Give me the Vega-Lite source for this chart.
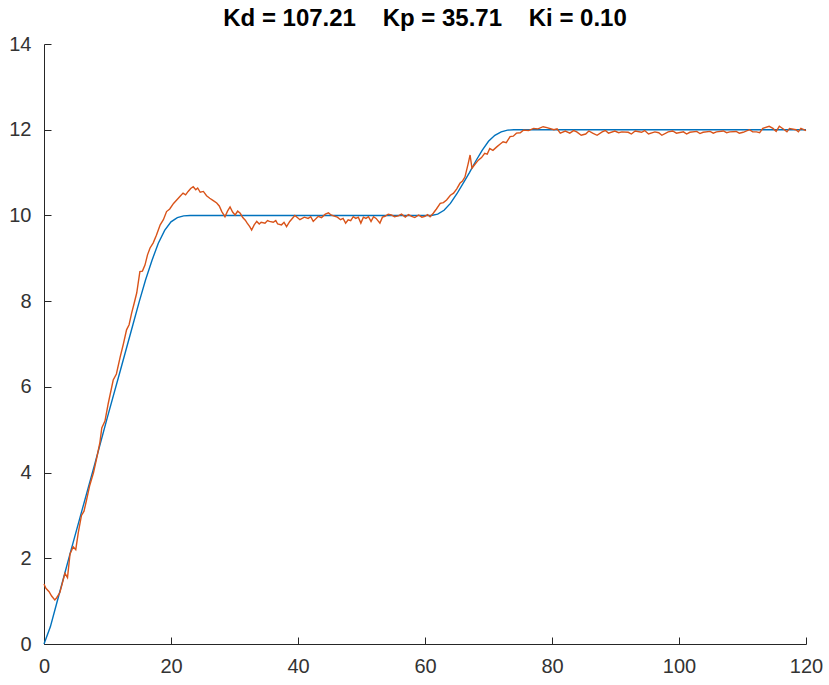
{
  "$schema": "https://vega.github.io/schema/vega-lite/v6.json",
  "autosize": "none",
  "width": 762,
  "height": 600,
  "padding": {"left": 44, "top": 44, "right": 23, "bottom": 41},
  "background": "white",
  "config": {"view": {"stroke": null}},
  "title": {"text": "Kd = 107.21\u00a0\u00a0\u00a0\u00a0Kp = 35.71\u00a0\u00a0\u00a0\u00a0Ki = 0.10", "font": "Liberation Sans", "fontSize": 24, "fontWeight": "bold", "color": "#000000", "anchor": "middle", "offset": 3},
  "datasets": {
    "ref": [
      {"t": 0, "y": 0}, {"t": 1, "y": 0.4}, {"t": 2, "y": 0.95}, {"t": 3, "y": 1.5}, {"t": 4, "y": 2.05}, {"t": 6, "y": 3.13}, {"t": 8, "y": 4.2}, {"t": 10, "y": 5.3}, {"t": 12, "y": 6.37}, {"t": 14, "y": 7.45}, {"t": 15, "y": 7.99}, {"t": 16, "y": 8.5}, {"t": 17, "y": 8.95}, {"t": 18, "y": 9.35}, {"t": 19, "y": 9.65}, {"t": 20, "y": 9.85}, {"t": 21, "y": 9.95}, {"t": 22, "y": 9.99}, {"t": 23, "y": 10}, {"t": 61, "y": 10}, {"t": 62, "y": 10.03}, {"t": 63, "y": 10.12}, {"t": 64, "y": 10.28}, {"t": 65, "y": 10.5}, {"t": 66, "y": 10.75}, {"t": 67, "y": 11.0}, {"t": 68, "y": 11.27}, {"t": 69, "y": 11.52}, {"t": 70, "y": 11.73}, {"t": 71, "y": 11.87}, {"t": 72, "y": 11.95}, {"t": 73, "y": 11.99}, {"t": 74, "y": 12}, {"t": 120, "y": 12}
    ],
    "meas": [
      {"t": 0, "y": 1.4}, {"t": 0.3, "y": 1.3}, {"t": 0.8, "y": 1.22}, {"t": 1.2, "y": 1.12}, {"t": 1.7, "y": 1.03}, {"t": 2.0, "y": 1.08}, {"t": 2.5, "y": 1.2}, {"t": 3.3, "y": 1.65}, {"t": 3.7, "y": 1.55}, {"t": 4.1, "y": 2.1}, {"t": 4.6, "y": 2.27}, {"t": 5.0, "y": 2.2}, {"t": 5.4, "y": 2.6}, {"t": 5.9, "y": 3.0}, {"t": 6.3, "y": 3.1}, {"t": 6.7, "y": 3.36}, {"t": 7.2, "y": 3.7}, {"t": 7.8, "y": 4.0}, {"t": 8.3, "y": 4.34}, {"t": 8.8, "y": 4.7}, {"t": 9.1, "y": 5.04}, {"t": 9.6, "y": 5.2}, {"t": 10.1, "y": 5.6}, {"t": 10.9, "y": 6.16}, {"t": 11.4, "y": 6.3}, {"t": 12.0, "y": 6.7}, {"t": 12.5, "y": 7.0}, {"t": 13.0, "y": 7.33}, {"t": 13.4, "y": 7.45}, {"t": 13.8, "y": 7.72}, {"t": 14.2, "y": 7.95}, {"t": 14.6, "y": 8.19}, {"t": 15.1, "y": 8.69}, {"t": 15.5, "y": 8.7}, {"t": 15.9, "y": 8.84}, {"t": 16.3, "y": 9.08}, {"t": 16.7, "y": 9.24}, {"t": 17.2, "y": 9.36}, {"t": 17.7, "y": 9.54}, {"t": 18.3, "y": 9.78}, {"t": 18.8, "y": 9.9}, {"t": 19.3, "y": 10.09}, {"t": 19.8, "y": 10.15}, {"t": 20.4, "y": 10.28}, {"t": 20.9, "y": 10.36}, {"t": 21.4, "y": 10.44}, {"t": 21.9, "y": 10.52}, {"t": 22.3, "y": 10.48}, {"t": 22.7, "y": 10.56}, {"t": 23.1, "y": 10.63}, {"t": 23.5, "y": 10.67}, {"t": 23.9, "y": 10.6}, {"t": 24.2, "y": 10.64}, {"t": 24.6, "y": 10.54}, {"t": 25.1, "y": 10.56}, {"t": 25.6, "y": 10.46}, {"t": 26.1, "y": 10.4}, {"t": 26.6, "y": 10.35}, {"t": 27.2, "y": 10.29}, {"t": 27.6, "y": 10.22}, {"t": 28.0, "y": 10.09}, {"t": 28.5, "y": 9.97}, {"t": 28.9, "y": 10.1}, {"t": 29.3, "y": 10.2}, {"t": 29.7, "y": 10.08}, {"t": 30.1, "y": 10.01}, {"t": 30.5, "y": 10.1}, {"t": 30.9, "y": 10.05}, {"t": 31.3, "y": 9.95}, {"t": 31.7, "y": 9.89}, {"t": 32.0, "y": 9.82}, {"t": 32.4, "y": 9.74}, {"t": 32.7, "y": 9.66}, {"t": 33.1, "y": 9.78}, {"t": 33.5, "y": 9.86}, {"t": 33.9, "y": 9.8}, {"t": 34.2, "y": 9.84}, {"t": 34.8, "y": 9.82}, {"t": 35.2, "y": 9.88}, {"t": 35.5, "y": 9.86}, {"t": 36.1, "y": 9.84}, {"t": 36.5, "y": 9.88}, {"t": 36.8, "y": 9.8}, {"t": 37.4, "y": 9.78}, {"t": 37.8, "y": 9.84}, {"t": 38.2, "y": 9.74}, {"t": 38.7, "y": 9.86}, {"t": 39.1, "y": 9.93}, {"t": 39.5, "y": 10.0}, {"t": 39.9, "y": 9.95}, {"t": 40.3, "y": 9.9}, {"t": 41.0, "y": 9.96}, {"t": 41.6, "y": 9.93}, {"t": 42.0, "y": 9.97}, {"t": 42.4, "y": 9.86}, {"t": 43.2, "y": 9.98}, {"t": 43.7, "y": 9.95}, {"t": 44.3, "y": 10.03}, {"t": 44.8, "y": 10.06}, {"t": 45.2, "y": 10.01}, {"t": 45.6, "y": 9.99}, {"t": 46.2, "y": 9.96}, {"t": 46.7, "y": 9.9}, {"t": 47.1, "y": 9.93}, {"t": 47.5, "y": 9.82}, {"t": 47.9, "y": 9.9}, {"t": 48.3, "y": 9.88}, {"t": 48.7, "y": 9.97}, {"t": 49.1, "y": 9.93}, {"t": 49.5, "y": 9.96}, {"t": 49.9, "y": 9.82}, {"t": 50.3, "y": 9.96}, {"t": 50.7, "y": 9.93}, {"t": 51.1, "y": 9.97}, {"t": 51.5, "y": 9.86}, {"t": 51.9, "y": 9.97}, {"t": 52.3, "y": 9.93}, {"t": 52.9, "y": 9.82}, {"t": 53.3, "y": 9.96}, {"t": 53.7, "y": 9.98}, {"t": 54.2, "y": 10.03}, {"t": 54.7, "y": 10.01}, {"t": 55.2, "y": 9.97}, {"t": 55.8, "y": 9.99}, {"t": 56.3, "y": 10.03}, {"t": 56.9, "y": 9.96}, {"t": 57.4, "y": 10.02}, {"t": 57.9, "y": 9.98}, {"t": 58.4, "y": 9.95}, {"t": 59.0, "y": 10.01}, {"t": 59.5, "y": 9.96}, {"t": 60.0, "y": 9.98}, {"t": 60.4, "y": 10.02}, {"t": 60.8, "y": 9.97}, {"t": 61.3, "y": 10.05}, {"t": 61.8, "y": 10.15}, {"t": 62.4, "y": 10.28}, {"t": 62.9, "y": 10.3}, {"t": 63.4, "y": 10.36}, {"t": 64.0, "y": 10.47}, {"t": 64.5, "y": 10.52}, {"t": 65.0, "y": 10.62}, {"t": 65.5, "y": 10.75}, {"t": 65.9, "y": 10.8}, {"t": 66.3, "y": 10.9}, {"t": 66.8, "y": 11.21}, {"t": 67.1, "y": 11.41}, {"t": 67.4, "y": 11.1}, {"t": 67.9, "y": 11.2}, {"t": 68.4, "y": 11.29}, {"t": 68.9, "y": 11.35}, {"t": 69.4, "y": 11.45}, {"t": 69.8, "y": 11.43}, {"t": 70.2, "y": 11.56}, {"t": 70.7, "y": 11.52}, {"t": 71.3, "y": 11.6}, {"t": 71.8, "y": 11.66}, {"t": 72.3, "y": 11.72}, {"t": 72.8, "y": 11.7}, {"t": 73.4, "y": 11.84}, {"t": 73.9, "y": 11.85}, {"t": 74.4, "y": 11.92}, {"t": 75.0, "y": 11.93}, {"t": 75.5, "y": 11.99}, {"t": 76.3, "y": 11.98}, {"t": 77.1, "y": 12.03}, {"t": 77.8, "y": 12.02}, {"t": 78.6, "y": 12.07}, {"t": 79.2, "y": 12.05}, {"t": 80.3, "y": 12.0}, {"t": 80.8, "y": 12.02}, {"t": 81.3, "y": 11.92}, {"t": 82.1, "y": 11.97}, {"t": 82.8, "y": 11.92}, {"t": 83.4, "y": 11.98}, {"t": 83.9, "y": 11.95}, {"t": 84.6, "y": 11.87}, {"t": 85.3, "y": 11.9}, {"t": 85.8, "y": 11.97}, {"t": 86.4, "y": 11.92}, {"t": 87.1, "y": 11.87}, {"t": 87.9, "y": 11.95}, {"t": 88.4, "y": 11.98}, {"t": 88.9, "y": 11.92}, {"t": 89.9, "y": 11.97}, {"t": 90.5, "y": 11.93}, {"t": 91.0, "y": 11.95}, {"t": 92.0, "y": 11.94}, {"t": 92.5, "y": 11.9}, {"t": 93.1, "y": 11.97}, {"t": 94.1, "y": 11.94}, {"t": 94.6, "y": 11.98}, {"t": 95.2, "y": 11.9}, {"t": 96.2, "y": 11.95}, {"t": 96.8, "y": 11.93}, {"t": 97.3, "y": 11.87}, {"t": 98.3, "y": 11.95}, {"t": 99.0, "y": 11.97}, {"t": 99.6, "y": 11.92}, {"t": 100.7, "y": 11.95}, {"t": 101.2, "y": 11.9}, {"t": 101.7, "y": 11.94}, {"t": 102.8, "y": 11.96}, {"t": 103.3, "y": 11.91}, {"t": 103.8, "y": 11.94}, {"t": 104.9, "y": 11.96}, {"t": 105.4, "y": 11.92}, {"t": 105.9, "y": 11.95}, {"t": 107.0, "y": 11.97}, {"t": 107.5, "y": 11.93}, {"t": 108.0, "y": 11.95}, {"t": 109.0, "y": 11.96}, {"t": 109.5, "y": 11.92}, {"t": 110.1, "y": 11.94}, {"t": 111.1, "y": 12.0}, {"t": 111.6, "y": 11.95}, {"t": 112.2, "y": 11.95}, {"t": 112.7, "y": 11.93}, {"t": 113.2, "y": 12.03}, {"t": 114.2, "y": 12.08}, {"t": 114.8, "y": 12.03}, {"t": 115.3, "y": 11.96}, {"t": 115.8, "y": 12.08}, {"t": 116.6, "y": 12.0}, {"t": 117.0, "y": 11.95}, {"t": 117.4, "y": 12.03}, {"t": 118.4, "y": 12.0}, {"t": 118.8, "y": 11.95}, {"t": 119.2, "y": 12.03}, {"t": 120, "y": 11.98}
    ]
  },
  "encoding": {
    "x": {"field": "t", "type": "quantitative", "scale": {"domain": [0, 120], "nice": false, "zero": false},
      "axis": {"title": null, "grid": false, "values": [0, 20, 40, 60, 80, 100, 120], "domainColor": "#262626", "tickColor": "#262626", "tickSize": -7, "labelPadding": 19, "labelFont": "Liberation Sans", "labelFontSize": 20, "labelColor": "#333333", "labelFlush": false}},
    "y": {"field": "y", "type": "quantitative", "scale": {"domain": [0, 14], "nice": false, "zero": false},
      "axis": {"title": null, "grid": false, "values": [0, 2, 4, 6, 8, 10, 12, 14], "domainColor": "#262626", "tickColor": "#262626", "tickSize": -7, "labelPadding": 20, "labelFont": "Liberation Sans", "labelFontSize": 20, "labelColor": "#333333", "labelFlush": false}}
  },
  "layer": [
    {"data": {"name": "ref"}, "mark": {"type": "line", "color": "#0072BD", "strokeWidth": 1.4}},
    {"data": {"name": "meas"}, "mark": {"type": "line", "color": "#D95319", "strokeWidth": 1.4}}
  ]
}
